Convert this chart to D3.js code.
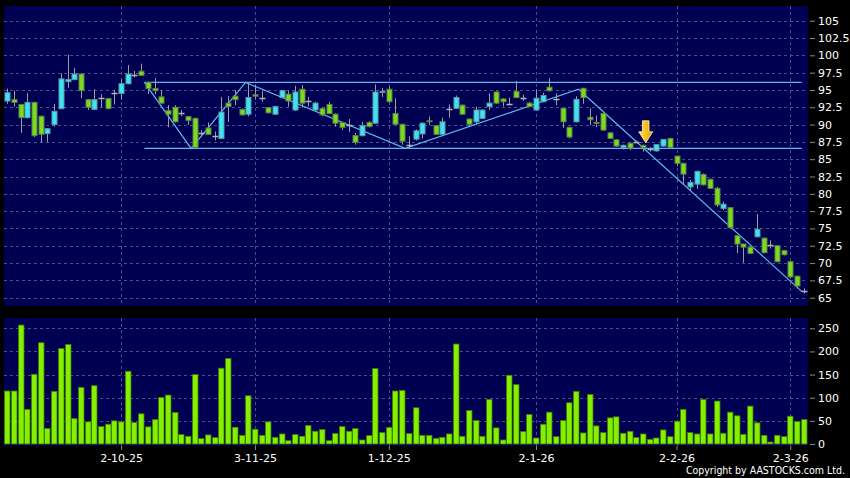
<!DOCTYPE html>
<html><head><meta charset="utf-8">
<script src="https://cdn.jsdelivr.net/npm/d3@7"></script>
<style>body{margin:0;background:#000;} svg{display:block;}</style>
</head><body>
<svg id="c" width="850" height="478"></svg>
<script>
// ---- data ----
const opens  = [93.4,93.6,92.9,91.0,93.2,91.2,88.7,90.0,92.3,96.2,96.5,97.3,93.6,92.2,93.9,93.75,94.6,94.5,95.9,97.2,
                97.7,96.1,95.2,94.0,92.0,92.5,91.6,91.15,90.9,88.85,89.5,88.3,88.0,93.1,94.1,92.2,91.5,94.3,93.8,92.45,
                91.5,93.9,94.4,92.1,95.1,93.4,92.1,92.3,92.9,91.5,90.3,90.0,88.4,88.4,90.3,90.2,94.7,95.1,91.6,90.05,
                87.0,87.9,88.65,90.55,89.85,88.6,92.25,92.35,92.8,90.8,90.4,90.9,92.6,94.7,93.7,93.0,94.8,93.9,93.1,92.1,
                93.3,95.4,93.65,92.35,89.6,90.4,95.24,91.05,90.3,91.6,88.8,87.8,86.7,87.3,87.5,87.0,86.45,86.2,86.9,88.0,
                85.45,84.4,81.0,81.4,82.8,82.1,80.8,77.9,78.0,73.95,72.75,72.3,73.8,73.6,72.6,72.5,71.8,70.2,68.1,66.0];
const highs  = [95.2,94.9,93.0,94.6,93.3,91.3,89.5,93.0,97.4,100.1,98.2,97.4,93.7,95.1,94.4,93.8,95.0,96.5,98.6,97.75,
                98.8,96.2,96.7,95.0,92.8,92.8,92.1,91.2,91.0,89.2,90.3,89.0,94.0,94.1,95.0,92.3,96.0,95.7,94.8,92.5,
                92.7,95.0,94.9,95.6,95.7,94.0,93.3,92.5,93.3,91.6,90.4,90.8,88.8,90.4,90.5,95.8,95.3,95.5,93.8,90.1,
                88.3,89.3,90.3,91.15,89.9,91.0,92.9,94.2,92.9,90.9,92.6,92.2,94.5,94.8,93.8,93.9,96.3,94.3,93.3,95.1,
                94.6,96.7,94.5,92.4,89.7,94.1,95.3,92.35,91.3,91.7,88.9,87.9,87.1,87.4,87.7,87.1,86.7,87.2,87.9,88.1,
                85.5,84.5,82.0,83.35,82.95,82.2,81.0,78.85,78.1,74.0,72.8,72.4,77.08,73.7,73.3,72.6,71.9,70.3,68.2,66.35];
const lows   = [93.0,92.6,88.8,90.9,88.2,87.4,87.5,89.7,92.2,95.3,96.4,93.8,92.1,92.1,92.5,92.2,92.9,93.6,95.8,96.8,
                97.0,94.4,94.4,93.0,89.6,90.3,91.2,89.95,86.5,88.3,88.5,87.7,87.9,90.4,92.8,91.3,91.2,93.6,93.3,91.6,
                91.4,93.8,92.6,92.0,92.45,92.6,91.8,91.2,91.5,89.7,89.2,88.9,87.1,88.3,89.6,90.1,94.0,93.2,90.0,87.1,
                86.6,87.7,88.0,89.95,88.5,88.5,91.0,92.3,91.4,89.7,90.0,90.8,92.1,93.0,92.6,92.8,93.8,93.4,92.5,92.0,
                93.2,94.75,92.8,89.5,88.0,90.3,93.0,89.95,89.6,89.1,87.9,86.8,86.4,86.3,87.3,86.1,86.1,86.1,86.8,86.6,
                84.0,81.3,80.55,80.7,81.2,80.7,78.1,77.65,75.0,71.4,70.05,71.3,73.7,71.4,72.1,70.1,71.1,67.9,66.35,65.6];
const closes = [94.6,93.2,91.0,93.2,88.4,88.6,89.4,91.9,96.6,96.5,97.3,94.9,92.5,93.6,93.9,92.3,94.6,95.9,97.3,97.2,
                97.1,95.2,94.9,93.1,91.5,90.4,91.6,90.6,86.7,88.85,88.6,88.3,91.8,92.6,93.6,91.4,93.9,94.1,93.8,91.7,
                92.6,94.9,93.4,94.7,93.1,93.4,93.1,91.4,91.6,90.2,89.6,90.0,87.45,89.85,89.7,94.7,94.8,93.3,90.05,87.6,
                87.0,89.1,90.2,90.45,88.6,90.4,92.25,93.9,91.5,90.05,92.1,92.1,93.1,93.1,93.3,93.0,93.9,93.9,92.6,93.8,
                94.2,94.9,93.65,90.4,88.2,93.65,93.9,90.7,90.2,89.2,88.0,86.9,87.0,86.6,87.5,86.65,86.45,87.1,87.85,86.7,
                84.4,82.85,81.65,83.24,81.3,80.8,78.4,78.5,75.1,72.75,72.3,71.4,74.87,71.5,72.6,70.2,71.2,68.0,66.7,66.0];
const volumes = [114.5,114.5,257,74.6,150.7,218.8,33.3,113.8,206.5,215.2,55,122.5,47.8,126,37.7,42.8,50,47.8,157.2,46.4,
                 65.2,37,52.9,100.7,105.8,68.1,20.3,16.7,150,11.6,19.6,13.8,163.8,184.8,36.2,18.8,104.3,31.9,18.8,47.8,
                 14.5,21.7,7.2,20.3,16.7,39.9,27.5,31.2,7.2,22.5,37.7,27.5,33.3,8.7,18.1,163,24.6,35.5,114.5,116,
                 22.5,78.3,18.8,18.8,12.3,14.5,21.7,216,16.7,72.5,50.7,16.7,96.4,34.8,8.7,148.5,128.3,26.8,63.8,13,
                 42.8,68.8,15.9,50.7,89.1,113.8,23.9,107.2,39.1,24.6,56.5,58.7,23.2,27.5,13.8,21.7,10.1,13,30.4,15.9,
                 49.3,74.6,24.6,21.7,96.4,21.7,92.8,23.2,68.8,60.9,21,81.9,45.7,18.8,4.3,18.8,15.9,60.1,48.5,52.9];
const xTickIdx    = [17, 37, 57, 79, 100, 117];
const xTickLabels = ["2-10-25","3-11-25","1-12-25","2-1-26","2-2-26","2-3-26"];
const priceTicks  = [65,67.5,70,72.5,75,77.5,80,82.5,85,87.5,90,92.5,95,97.5,100,102.5,105];
const volTicks    = [0,50,100,150,200,250];
// trend lines: [bar index, price]
const zigzag     = [[20.48,96.08],[27.46,86.56],[35.6,96.08],[59.45,86.56],[85.35,95.1],[118.74,65.87]];
const resistance = [[20.48,96.08],[118.7,96.08]];
const support    = [[20.48,86.56],[118.7,86.56]];
const signal     = {idx: 95.4, price: 87.37};

// ---- layout ----
const svg = d3.select("#c");
const W = 850, H = 478;
const P = {left: 4, right: 808, top: 6, bottom: 306};
const V = {left: 4, right: 808, top: 318, bottom: 446};
const n = opens.length;

svg.append("rect").attr("width", W).attr("height", H).attr("fill", "#000");

const x = d3.scaleBand().domain(d3.range(n)).range([4, 807]).paddingInner(0.25).paddingOuter(0.125);
const step = x.step();
const cx = i => x(i) + x.bandwidth() / 2;
const xl = d3.scaleLinear().domain([0, n - 1]).range([cx(0), cx(n - 1)]);
const y = d3.scaleLinear().domain([65, 105]).range([297.7, 20.7]);
const yv = d3.scaleLinear().domain([0, 250]).range([444, 328.3]);

const navy = "#000052";
const gridCol = "#4e4e86";

// panels
svg.append("rect").attr("x", P.left).attr("y", P.top).attr("width", P.right - P.left).attr("height", P.bottom - P.top).attr("fill", navy);
svg.append("rect").attr("x", V.left).attr("y", V.top).attr("width", V.right - V.left).attr("height", V.bottom - V.top).attr("fill", navy);

// grid
const g = svg.append("g");
g.selectAll("line.hp").data(priceTicks).join("line")
  .attr("x1", P.left).attr("x2", P.right).attr("y1", d => Math.round(y(d)) + 0.5).attr("y2", d => Math.round(y(d)) + 0.5)
  .attr("stroke", gridCol).attr("stroke-dasharray", "3,3");
g.selectAll("line.hv").data(volTicks.slice(1)).join("line")
  .attr("x1", V.left).attr("x2", V.right).attr("y1", d => Math.round(yv(d)) + 0.5).attr("y2", d => Math.round(yv(d)) + 0.5)
  .attr("stroke", gridCol).attr("stroke-dasharray", "3,3");
xTickIdx.forEach(i => {
  const xx = Math.round(cx(i)) + 0.5;
  g.append("line").attr("x1", xx).attr("x2", xx).attr("y1", P.top).attr("y2", P.bottom).attr("stroke", gridCol).attr("stroke-dasharray", "3,3");
  g.append("line").attr("x1", xx).attr("x2", xx).attr("y1", V.top).attr("y2", V.bottom).attr("stroke", gridCol).attr("stroke-dasharray", "3,3");
});

// trend lines
const line = d3.line().x(d => xl(d[0])).y(d => y(d[1]));
const tl = svg.append("g").attr("fill", "none").attr("stroke", "#5fb6ec").attr("stroke-width", 1.2);
tl.append("path").attr("d", line(resistance));
tl.append("path").attr("d", line(support));
tl.append("path").attr("d", line(zigzag));

// candles
const bars = d3.range(n).map(i => ({i, o: opens[i], h: highs[i], l: lows[i], c: closes[i]}));
const cg = svg.append("g");
cg.selectAll("line.wick").data(bars).join("line")
  .attr("x1", d => Math.round(cx(d.i)) + 0.5).attr("x2", d => Math.round(cx(d.i)) + 0.5)
  .attr("y1", d => y(d.h)).attr("y2", d => y(d.l))
  .attr("stroke", "#9c9c9c").attr("stroke-width", 1);
const bw = 5;
cg.selectAll("rect.body").data(bars.filter(d => Math.abs(d.c - d.o) > 0.001)).join("rect")
  .attr("x", d => Math.round(cx(d.i)) - 2)
  .attr("width", bw)
  .attr("y", d => y(Math.max(d.o, d.c)))
  .attr("height", d => Math.max(1, Math.abs(y(d.o) - y(d.c))))
  .attr("fill", d => d.c > d.o ? "#3ee3f2" : "#78dc1c")
  .attr("stroke", d => d.c > d.o ? "#5a9aa8" : "#5f8046")
  .attr("stroke-width", 1);
cg.selectAll("line.doji").data(bars.filter(d => Math.abs(d.c - d.o) <= 0.001)).join("line")
  .attr("x1", d => Math.round(cx(d.i)) - 2.5).attr("x2", d => Math.round(cx(d.i)) + 3.5)
  .attr("y1", d => Math.round(y(d.o)) + 0.5).attr("y2", d => Math.round(y(d.o)) + 0.5)
  .attr("stroke", "#b4b4b4").attr("stroke-width", 1.5);

// signal arrow
const defs = svg.append("defs");
const grad = defs.append("linearGradient").attr("id", "ag").attr("x1", 0).attr("x2", 1).attr("y1", 0).attr("y2", 0);
grad.append("stop").attr("offset", "0%").attr("stop-color", "#ffe27a");
grad.append("stop").attr("offset", "50%").attr("stop-color", "#f8c21a");
grad.append("stop").attr("offset", "100%").attr("stop-color", "#e09a00");
const ax = xl(signal.idx), ay = y(signal.price);
svg.append("path")
  .attr("d", `M${ax},${ay} L${ax - 7},${ay - 11} L${ax - 3.3},${ay - 11} L${ax - 3.3},${ay - 22} L${ax + 3.3},${ay - 22} L${ax + 3.3},${ay - 11} L${ax + 7},${ay - 11} Z`)
  .attr("fill", "url(#ag)").attr("stroke", "#fff3c0").attr("stroke-width", 0.8);

// volume bars
svg.append("g").selectAll("rect").data(volumes).join("rect")
  .attr("x", (d, i) => Math.round(cx(i)) - 2.5)
  .attr("width", 5.5)
  .attr("y", d => yv(d))
  .attr("height", d => yv(0) - yv(d))
  .attr("fill", "#84f000").attr("stroke", "#3f7e00").attr("stroke-width", 0.8);

// axes
const font = "DejaVu Sans, Verdana, sans-serif";
const yAxis = d3.axisRight(y).tickValues(priceTicks).tickSize(5).tickPadding(3).tickFormat(d => d);
const ya = svg.append("g").attr("transform", `translate(${P.right + 2},0)`).call(yAxis);
const yvAxis = d3.axisRight(yv).tickValues(volTicks).tickSize(5).tickPadding(3);
const yva = svg.append("g").attr("transform", `translate(${V.right + 2},0)`).call(yvAxis);
const xAxis = d3.axisBottom(xl).tickValues(xTickIdx).tickSize(4).tickPadding(4).tickFormat((d, k) => xTickLabels[k]);
const xa = svg.append("g").attr("transform", `translate(0,${V.bottom})`).call(xAxis);
[ya, yva, xa].forEach(a => {
  a.select(".domain").remove();
  a.selectAll(".tick line").attr("stroke", "#8a8a8a");
  a.selectAll(".tick text").attr("fill", "#fff").attr("font-family", font).attr("font-size", 11);
});

svg.append("text").attr("x", 845).attr("y", 474).attr("text-anchor", "end")
  .attr("fill", "#fff").attr("font-family", "DejaVu Sans Condensed, DejaVu Sans, sans-serif").attr("font-size", 10.5)
  .text("Copyright by AASTOCKS.com Ltd.");
</script>
</body></html>
